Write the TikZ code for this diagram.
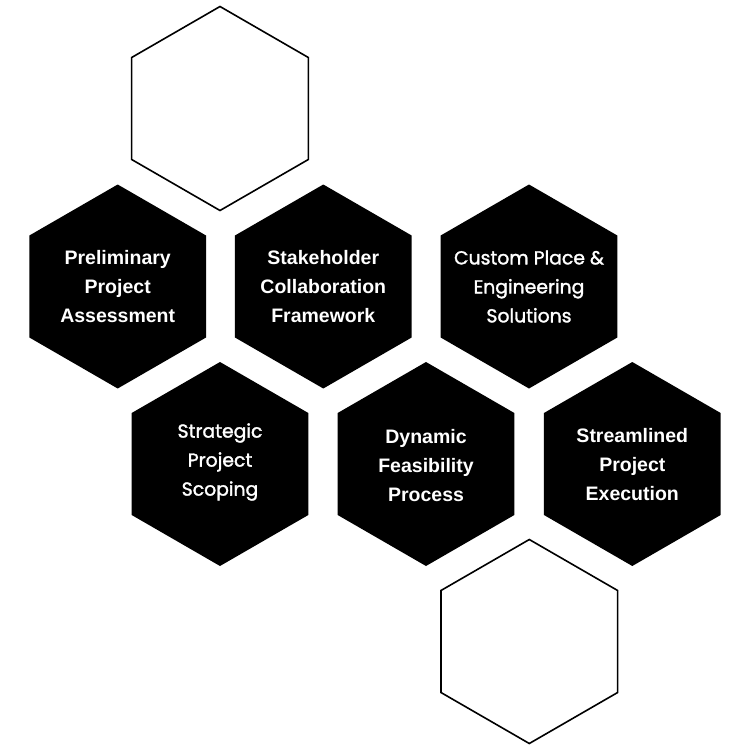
\documentclass[tikz,border=0pt]{standalone}
\usepackage{fontspec}
\setmainfont{Liberation Sans}
\newfontfamily\grot[FakeBold=1.6]{Poppins}
\usetikzlibrary{shapes.geometric}
\tikzset{
  hexa/.style={regular polygon, regular polygon sides=6, shape border rotate=30,
    minimum size=204pt, inner sep=0pt, outer sep=0pt},
  hexfill/.style={hexa, fill=black},
  hexline/.style={hexa, draw=black, line width=1.6pt, fill=white},
  lbl/.style={text=white, align=center, font=\fontsize{19.5}{29}\selectfont\bfseries},
  glbl/.style={text=white, align=center, font=\fontsize{18.8}{29}\selectfont\grot},
}
\begin{document}
\begin{tikzpicture}[x=1pt,y=-1pt]
\useasboundingbox[fill=white] (0,0) rectangle (750,750);
\node[hexline] (t) at (220,108.5) {};
\node[hexfill] (a) at (117.7,286.5) {};
\node[hexfill] (b) at (323.3,286.5) {};
\node[hexfill] (c) at (529,286.5) {};
\node[hexfill] (d) at (220,464) {};
\node[hexfill] (e) at (426,464) {};
\node[hexfill] (f) at (632.3,464) {};
\node[hexline] (g) at (529.3,641.5) {};
\node[lbl] (la) at (a) {Preliminary\\Project\\Assessment};
\node[lbl] (lb) at (b) {Stakeholder\\Collaboration\\Framework};
\node[glbl] (lc) at (c) {Custom Place \&\\Engineering\\Solutions};
\node[glbl] (ld) at (220,462) {Strategic\\Project\\Scoping};
\node[lbl] (le) at (426,466) {Dynamic\\Feasibility\\Process};
\node[lbl] (lf) at (632.3,465) {Streamlined\\Project\\Execution};
\end{tikzpicture}
\end{document}
